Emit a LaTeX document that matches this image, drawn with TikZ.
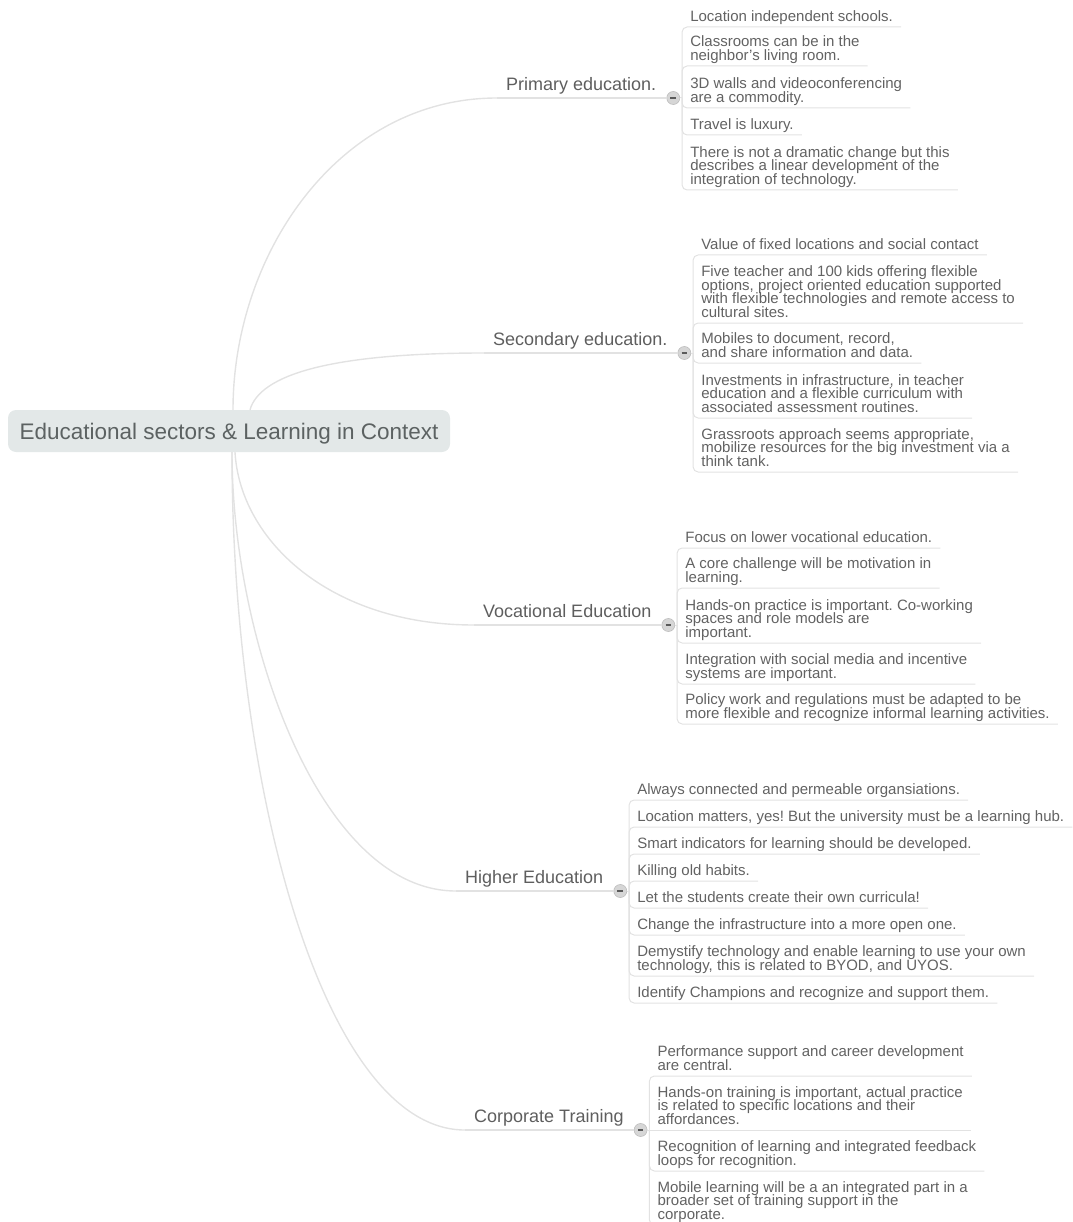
\documentclass[tikz,border=0pt]{standalone}
\usepackage{fontspec}
\setmainfont{Liberation Sans}
\usepackage{tikz}
\usetikzlibrary{positioning}
\frenchspacing

\definecolor{inkgray}{HTML}{5E5E5E}
\definecolor{leafink}{HTML}{626262}
\definecolor{roottext}{HTML}{5C6262}
\definecolor{rootfill}{HTML}{E3E8E8}
\definecolor{wiregray}{HTML}{E2E2E2}
\definecolor{foldfill}{HTML}{D6D6D6}
\definecolor{foldedge}{HTML}{BDBDBD}
\definecolor{foldmark}{HTML}{5A5A5A}

\begin{document}
\begin{tikzpicture}[x=1pt,y=1pt,
	central/.style={rounded corners=8pt, fill=rootfill, text=roottext, font=\fontsize{22.5}{26}\selectfont,
		minimum width=442pt, minimum height=42pt, inner sep=0pt, text height=16pt, text depth=0pt},
	sector/.style={anchor=south west, inner xsep=9pt, inner ysep=0pt, text=inkgray,
		font=\fontsize{18}{20}\selectfont, text height=17pt, text depth=7.5pt},
	idea/.style={anchor=south west, align=left, inner xsep=8pt, inner ysep=0pt, text=leafink,
		font={\fontsize{15}{13.5}\selectfont\lineskiplimit=-\maxdimen},
		execute at begin node={\rule{0pt}{21.5pt}}, execute at end node={\rule[-5.5pt]{0pt}{5.5pt}}},
	fold/.style={circle, minimum size=13pt, inner sep=0pt, fill=foldfill, draw=foldedge, line width=0.6pt,
		path picture={\draw[foldmark, line width=1.8pt] ([xshift=-2.8pt]path picture bounding box.center)
			-- ([xshift=2.8pt]path picture bounding box.center);}},
	branchline/.style={wiregray, line width=1.4pt},
	twig/.style={wiregray, line width=1pt}]
	\useasboundingbox (0,0) rectangle (1072,-1222);

	% centre
	\node[central] (root) at (229,-431) {Educational sectors \& Learning in Context};

	% sectors
	\node[sector] (pri) at (497,-98) {Primary education.};
	\node[sector] (sec) at (484,-353) {Secondary education.};
	\node[sector] (voc) at (474,-625) {Vocational Education};
	\node[sector] (hig) at (456,-891) {Higher Education};
	\node[sector] (cor) at (465,-1130) {Corporate Training};

	\draw[branchline] ([xshift=4pt]root.north) .. controls +(0,156) and +(-158,0) .. (pri.south west);
	\draw[branchline] ([xshift=21pt]root.north) .. controls +(10,35) and +(-154,0) .. (sec.south west);
	\draw[branchline] ([xshift=6pt]root.south) .. controls +(5,-88) and +(-144,0) .. (voc.south west);
	\draw[branchline] ([xshift=3pt]root.south) .. controls +(0,-188) and +(-136,0) .. (hig.south west);
	\draw[branchline] ([xshift=3pt]root.south) .. controls +(0,-340) and +(-140,0) .. (cor.south west);

	% fold buttons
	\node[fold, right=1pt of pri.south east] (pri-f) {};
	\node[fold, right=1pt of sec.south east] (sec-f) {};
	\node[fold, right=1pt of voc.south east] (voc-f) {};
	\node[fold, right=1pt of hig.south east] (hig-f) {};
	\node[fold, right=1pt of cor.south east] (cor-f) {};
	\coordinate (pri-b) at ([xshift=2pt]pri-f.east);
	\coordinate (sec-b) at ([xshift=2pt]sec-f.east);
	\coordinate (voc-b) at ([xshift=2pt]voc-f.east);
	\coordinate (hig-b) at ([xshift=2pt]hig-f.east);
	\coordinate (cor-b) at ([xshift=2pt]cor-f.east);

	\draw[branchline] (pri.south west) -- (pri-f.west);
	\draw[branchline] (sec.south west) -- (sec-f.west);
	\draw[branchline] (voc.south west) -- (voc-f.west);
	\draw[branchline] (hig.south west) -- (hig-f.west);
	\draw[branchline] (cor.south west) -- (cor-f.west);

	% primary
	\node[idea] (pri-1) at (pri-b |- 0,-27) {Location independent schools.};
	\node[idea] (pri-2) at (pri-b |- 0,-66) {Classrooms can be in the\\neighbor's living room.};
	\node[idea] (pri-3) at (pri-b |- 0,-108) {3D walls and videoconferencing\\are a commodity.};
	\node[idea] (pri-4) at (pri-b |- 0,-135) {Travel is luxury.};
	\node[idea] (pri-5) at (pri-b |- 0,-190) {There is not a dramatic change but this\\describes a linear development of the\\integration of technology.};
	\draw[twig] (pri-f.east) -- (pri-b);
	\draw[twig, rounded corners=5pt] (pri-b) |- (pri-1.south east);
	\draw[twig, rounded corners=5pt] (pri-b) |- (pri-2.south east);
	\draw[twig, rounded corners=5pt] (pri-b) |- (pri-3.south east);
	\draw[twig, rounded corners=5pt] (pri-b) |- (pri-4.south east);
	\draw[twig, rounded corners=5pt] (pri-b) |- (pri-5.south east);

	% secondary
	\node[idea] (sec-1) at (sec-b |- 0,-255) {Value of fixed locations and social contact};
	\node[idea] (sec-2) at (sec-b |- 0,-323) {Five teacher and 100 kids offering flexible\\options, project oriented education supported\\with flexible technologies and remote access to\\cultural sites.};
	\node[idea] (sec-3) at (sec-b |- 0,-363) {Mobiles to document, record,\\and share information and data.};
	\node[idea] (sec-4) at (sec-b |- 0,-418) {Investments in infrastructure, in teacher\\education and a flexible curriculum with\\associated assessment routines.};
	\node[idea] (sec-5) at (sec-b |- 0,-472) {Grassroots approach seems appropriate,\\mobilize resources for the big investment via a\\think tank.};
	\draw[twig] (sec-f.east) -- (sec-b);
	\draw[twig, rounded corners=5pt] (sec-b) |- (sec-1.south east);
	\draw[twig, rounded corners=5pt] (sec-b) |- (sec-2.south east);
	\draw[twig, rounded corners=5pt] (sec-b) |- (sec-3.south east);
	\draw[twig, rounded corners=5pt] (sec-b) |- (sec-4.south east);
	\draw[twig, rounded corners=5pt] (sec-b) |- (sec-5.south east);

	% vocational
	\node[idea] (voc-1) at (voc-b |- 0,-548) {Focus on lower vocational education.};
	\node[idea] (voc-2) at (voc-b |- 0,-588) {A core challenge will be motivation in\\learning.};
	\node[idea] (voc-3) at (voc-b |- 0,-643) {Hands-on practice is important. Co-working\\spaces and role models are\\important.};
	\node[idea] (voc-4) at (voc-b |- 0,-684) {Integration with social media and incentive\\systems are important.};
	\node[idea] (voc-5) at (voc-b |- 0,-724) {Policy work and regulations must be adapted to be\\more flexible and recognize informal learning activities.};
	\draw[twig] (voc-f.east) -- (voc-b);
	\draw[twig, rounded corners=5pt] (voc-b) |- (voc-1.south east);
	\draw[twig, rounded corners=5pt] (voc-b) |- (voc-2.south east);
	\draw[twig, rounded corners=5pt] (voc-b) |- (voc-3.south east);
	\draw[twig, rounded corners=5pt] (voc-b) |- (voc-4.south east);
	\draw[twig, rounded corners=5pt] (voc-b) |- (voc-5.south east);

	% higher
	\node[idea] (hig-1) at (hig-b |- 0,-800) {Always connected and permeable organsiations.};
	\node[idea] (hig-2) at (hig-b |- 0,-827) {Location matters, yes! But the university must be a learning hub.};
	\node[idea] (hig-3) at (hig-b |- 0,-854) {Smart indicators for learning should be developed.};
	\node[idea] (hig-4) at (hig-b |- 0,-881) {Killing old habits.};
	\node[idea] (hig-5) at (hig-b |- 0,-908) {Let the students create their own curricula!};
	\node[idea] (hig-6) at (hig-b |- 0,-935) {Change the infrastructure into a more open one.};
	\node[idea] (hig-7) at (hig-b |- 0,-976) {Demystify technology and enable learning to use your own\\technology, this is related to BYOD, and UYOS.};
	\node[idea] (hig-8) at (hig-b |- 0,-1003) {Identify Champions and recognize and support them.};
	\draw[twig] (hig-f.east) -- (hig-b);
	\draw[twig, rounded corners=5pt] (hig-b) |- (hig-1.south east);
	\draw[twig, rounded corners=5pt] (hig-b) |- (hig-2.south east);
	\draw[twig, rounded corners=5pt] (hig-b) |- (hig-3.south east);
	\draw[twig, rounded corners=5pt] (hig-b) |- (hig-4.south east);
	\draw[twig, rounded corners=5pt] (hig-b) |- (hig-5.south east);
	\draw[twig, rounded corners=5pt] (hig-b) |- (hig-6.south east);
	\draw[twig, rounded corners=5pt] (hig-b) |- (hig-7.south east);
	\draw[twig, rounded corners=5pt] (hig-b) |- (hig-8.south east);

	% corporate
	\node[idea] (cor-1) at (cor-b |- 0,-1076) {Performance support and career development\\are central.};
	\node[idea] (cor-2) at (cor-b |- 0,-1130) {Hands-on training is important, actual practice\\is related to specific locations and their\\affordances.};
	\node[idea] (cor-3) at (cor-b |- 0,-1171) {Recognition of learning and integrated feedback\\loops for recognition.};
	\node[idea] (cor-4) at (cor-b |- 0,-1225) {Mobile learning will be a an integrated part in a\\broader set of training support in the\\corporate.};
	\draw[twig] (cor-f.east) -- (cor-b);
	\draw[twig, rounded corners=5pt] (cor-b) |- (cor-1.south east);
	\draw[twig] (cor-b) -- (cor-2.south east);
	\draw[twig, rounded corners=5pt] (cor-b) |- (cor-3.south east);
	\draw[twig, rounded corners=5pt] (cor-b) |- (cor-4.south east);
\end{tikzpicture}
\end{document}
